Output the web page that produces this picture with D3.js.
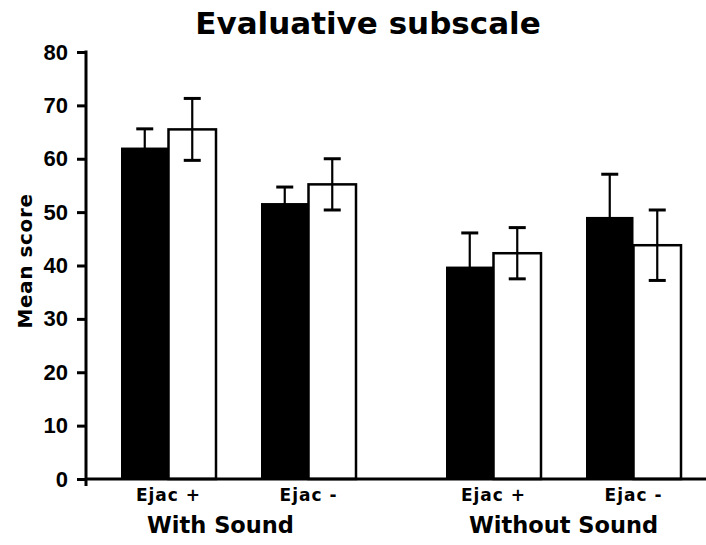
<!DOCTYPE html>
<html>
<head>
<meta charset="utf-8">
<script src="https://cdn.jsdelivr.net/npm/d3@7"></script>
<style>
  html, body { margin: 0; padding: 0; background: #fff; }
  svg { display: block; }
</style>
</head>
<body>
<svg id="chart" width="706" height="545"></svg>
<script>
// ---- data ----
const groups = ["With Sound", "Without Sound"];
const conditions = ["Ejac +", "Ejac -"];
const series = ["Series 1", "Series 2"];          // filled black, open white
const blackMeans = [62.1, 51.7, 39.8, 49.1];     // order: WS Ejac+, WS Ejac-, WoS Ejac+, WoS Ejac-
const blackSE    = [3.5, 3.0, 6.3, 8.0];
const whiteMeans = [65.5, 55.2, 42.3, 43.8];
const whiteSE    = [5.8, 4.8, 4.8, 6.6];
const yTicks = [0, 10, 20, 30, 40, 50, 60, 70, 80];
const title = "Evaluative subscale";
const yLabel = "Mean score";

// ---- build table ----
const rows = [];
groups.forEach((g, gi) => conditions.forEach((c, ci) => {
  const k = gi * conditions.length + ci;
  rows.push({group: g, cond: c, series: series[0], mean: blackMeans[k], se: blackSE[k]});
  rows.push({group: g, cond: c, series: series[1], mean: whiteMeans[k], se: whiteSE[k]});
}));

const svg = d3.select("#chart");
const y = d3.scaleLinear().domain([0, 80]).range([479, 52]);
const x0 = d3.scaleBand().domain(groups).range([76, 726]);
const x1 = d3.scaleBand().domain(conditions).range([0, x0.bandwidth()]).paddingOuter(0.1607);
const x2 = d3.scaleBand().domain(series).range([0, x1.bandwidth()]).paddingOuter(0.4737);
const color = d3.scaleOrdinal().domain(series).range(["#000", "#fff"]);
const xBar = d => x0(d.group) + x1(d.cond) + x2(d.series);

// bars
svg.append("g").selectAll("rect").data(rows).join("rect")
  .attr("x", d => xBar(d))
  .attr("y", d => y(d.mean))
  .attr("width", x2.bandwidth())
  .attr("height", d => y(0) - y(d.mean))
  .attr("fill", d => color(d.series))
  .attr("stroke", "#000")
  .attr("stroke-width", d => d.series === series[1] ? 2.5 : 0);

// error bars
const eg = svg.append("g").attr("stroke", "#000");
rows.forEach(d => {
  const cx = xBar(d) + x2.bandwidth() / 2;
  eg.append("line").attr("x1", cx).attr("x2", cx)
    .attr("y1", y(d.mean - d.se)).attr("y2", y(d.mean + d.se)).attr("stroke-width", 2.2);
  [d.mean + d.se, d.mean - d.se].forEach(v => {
    eg.append("line").attr("x1", cx - 8.5).attr("x2", cx + 8.5)
      .attr("y1", y(v)).attr("y2", y(v)).attr("stroke-width", 3);
  });
});

// y axis
const yAxis = d3.axisLeft(y).tickValues(yTicks).tickSize(9).tickPadding(9);
const ya = svg.append("g").attr("transform", "translate(86,0)").call(yAxis);
ya.select(".domain").remove();
ya.selectAll(".tick line").attr("stroke", "#000").attr("stroke-width", 3);
ya.selectAll(".tick text")
  .attr("font-family", "Liberation Sans, Arial, sans-serif")
  .attr("font-size", 22).attr("font-weight", "bold").attr("fill", "#000");
svg.append("line").attr("x1", 86).attr("x2", 86)
  .attr("y1", y(80) - 1.5).attr("y2", y(0) + 7)
  .attr("stroke", "#000").attr("stroke-width", 3);

// x axis line
svg.append("line").attr("x1", 85).attr("x2", 706)
  .attr("y1", y(0)).attr("y2", y(0))
  .attr("stroke", "#000").attr("stroke-width", 3);

// category labels
const font = "DejaVu Sans, Verdana, sans-serif";
groups.forEach(g => conditions.forEach(c => {
  svg.append("text")
    .attr("x", x0(g) + x1(c) + x1.bandwidth() / 2)
    .attr("y", 501)
    .attr("text-anchor", "middle")
    .attr("font-family", font).attr("font-weight", "bold")
    .attr("font-size", 17).attr("letter-spacing", 1)
    .text(c);
}));
groups.forEach(g => {
  svg.append("text")
    .attr("x", x0(g) + x0.bandwidth() / 2 - (g === groups[0] ? 18 : 0))
    .attr("y", 533)
    .attr("text-anchor", "middle")
    .attr("font-family", font).attr("font-weight", "bold")
    .attr("font-size", 22.5)
    .text(g);
});

// y label
svg.append("text")
  .attr("transform", "translate(32,261) rotate(-90)")
  .attr("text-anchor", "middle")
  .attr("font-family", font).attr("font-weight", "bold")
  .attr("font-size", 20).attr("letter-spacing", 0.6)
  .text(yLabel);

// title
svg.append("text")
  .attr("x", 368).attr("y", 34)
  .attr("text-anchor", "middle")
  .attr("font-family", font).attr("font-weight", "bold")
  .attr("font-size", 31)
  .text(title);
</script>
</body>
</html>
